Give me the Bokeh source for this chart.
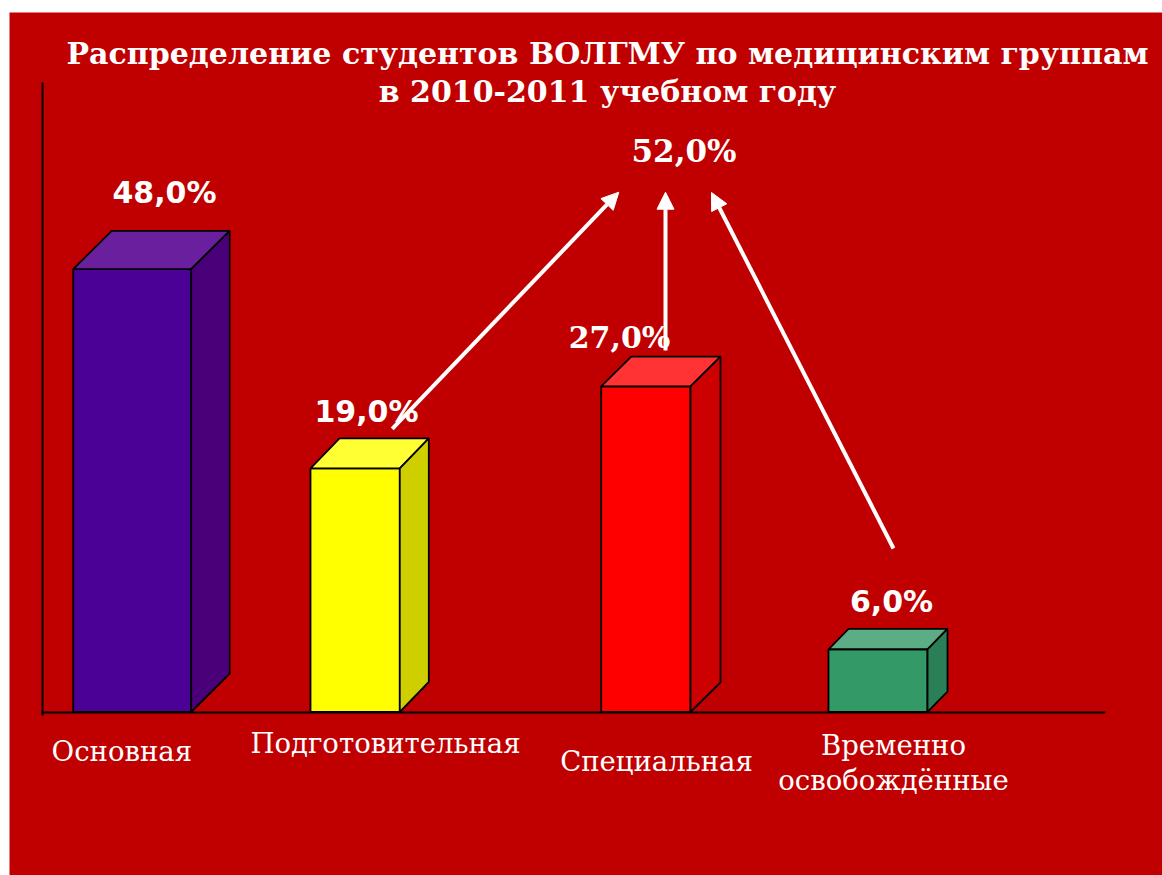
from bokeh.plotting import figure
from bokeh.models import Range1d, LinearAxis, FixedTicker, Arrow, NormalHead, ColumnDataSource
from bokeh.core.properties import value
from bokeh.embed import file_html
from bokeh.resources import INLINE

# ---------------- data ----------------
title_lines = ["Распределение студентов ВОЛГМУ по медицинским группам",
               "в 2010-2011 учебном году"]
categories = ["Основная", "Подготовительная", "Специальная", "Временно\nосвобождённые"]
values = [48.0, 19.0, 27.0, 6.0]            # percentages printed on the slide
bar_heights = [48.0, 26.4, 35.3, 6.8]       # drawn bar heights (same % scale)
combined = sum(values[1:])                  # 52,0 % = подготовительная + специальная + освобождённые


def pct(v):
    return f"{v:.1f}".replace(".", ",") + "%"


# ---------------- layout / style ----------------
K = 9.225      # screen px per percent unit
Y0 = 711.5     # screen y of the baseline


def sy(py):
    return (Y0 - py) / K


bar_left = [72.7, 310.0, 600.7, 828.0]
bar_right = [190.7, 399.3, 690.0, 927.0]
depth_x = [38.5, 29.0, 30.0, 20.0]
depth_y = [38.4, 30.0, 29.7, 20.3]
front_colors = ["#4B0096", "#FFFF00", "#FF0000", "#339966"]
top_colors = ["#6A1F9E", "#FFFF33", "#FF3333", "#5CAD85"]
side_colors = ["#4A0078", "#CFCF00", "#CC0000", "#2B7F56"]

val_x = [164.0, 366.0, 619.0, 891.0]
val_base = [192.0, 410.5, 337.0, 600.7]
val_fonts = ["DejaVu Sans", "DejaVu Sans", "DejaVu Serif", "DejaVu Sans"]
total_pos = (683.5, 150.7)

cat_x = [121.3, 385.0, 656.0, 893.0]
cat_base = [750.7, 742.5, 760.5, 744.0]
cat_line_gap = 35.0

arrow_tail = [(391.7, 428.3), (665.0, 350.0), (893.0, 548.0)]
arrow_tip = [(618.3, 191.7), (665.0, 191.7), (711.0, 192.0)]

title_x = 607.0
title_base = [53.0, 91.0]

BG = "#C00000"

p = figure(width=1162, height=875,
           x_range=Range1d(9, 1162), y_range=Range1d(sy(875), sy(12)),
           min_border_left=9, min_border_top=12, min_border_right=0, min_border_bottom=0,
           border_fill_color="white", background_fill_color=BG,
           outline_line_color=None, x_axis_type=None, y_axis_type=None,
           toolbar_location=None, output_backend="svg")

# axes (fixed inside the frame)
yaxis = LinearAxis(fixed_location=41.5, bounds=(sy(715), sy(82)),
                   ticker=FixedTicker(ticks=[]), axis_line_color="black", axis_line_width=2,
                   major_tick_line_color=None, minor_tick_line_color=None,
                   major_label_text_font_size="0px")
p.add_layout(yaxis, "left")
xaxis = LinearAxis(fixed_location=0, bounds=(41, 1105),
                   ticker=FixedTicker(ticks=[]), axis_line_color="black", axis_line_width=2,
                   major_tick_line_color=None, minor_tick_line_color=None,
                   major_label_text_font_size="0px")
p.add_layout(xaxis, "below")

# 3D bars
dy_units = [d / K for d in depth_y]
front = ColumnDataSource(dict(left=bar_left, right=bar_right, bottom=[0] * 4, top=bar_heights,
                              color=front_colors))
p.quad(left="left", right="right", bottom="bottom", top="top", source=front,
       fill_color="color", line_color="black", line_width=1.8)

top_xs, top_ys, side_xs, side_ys = [], [], [], []
for x0, x1, h, dx, dy in zip(bar_left, bar_right, bar_heights, depth_x, dy_units):
    top_xs.append([x0, x1, x1 + dx, x0 + dx])
    top_ys.append([h, h, h + dy, h + dy])
    side_xs.append([x1, x1 + dx, x1 + dx, x1])
    side_ys.append([0, dy, h + dy, h])
p.patches(xs=top_xs, ys=top_ys, fill_color=top_colors, line_color="black", line_width=1.8)
p.patches(xs=side_xs, ys=side_ys, fill_color=side_colors, line_color="black", line_width=1.8)

# value labels
vsrc = ColumnDataSource(dict(x=val_x, y=[sy(v) for v in val_base],
                             text=[pct(v) for v in values], font=val_fonts))
p.text(x="x", y="y", text="text", source=vsrc, text_font="font", text_font_style="bold",
       text_font_size="30px", text_color="white", text_align="center", text_baseline="alphabetic")
p.text(x=[total_pos[0]], y=[sy(total_pos[1])], text=[pct(combined)],
       text_font=value("DejaVu Serif"), text_font_style="bold", text_font_size="31px",
       text_color="white", text_align="center", text_baseline="alphabetic")

# arrows toward the combined share
for (tx, ty), (hx, hy) in zip(arrow_tail, arrow_tip):
    p.add_layout(Arrow(x_start=tx, y_start=sy(ty), x_end=hx, y_end=sy(hy),
                       line_color="white", line_width=4,
                       end=NormalHead(size=17, fill_color="white", line_color="white", line_width=1)))

# category labels (multi-line names split into separate rows)
cx, cy, ct = [], [], []
for name, x, b in zip(categories, cat_x, cat_base):
    for i, line in enumerate(name.split("\n")):
        cx.append(x)
        cy.append(sy(b + i * cat_line_gap))
        ct.append(line)
csrc = ColumnDataSource(dict(x=cx, y=cy, text=ct))
p.text(x="x", y="y", text="text", source=csrc, text_font=value("DejaVu Serif"),
       text_font_size="27.5px", text_color="white", text_align="center",
       text_baseline="alphabetic")

# title
p.text(x=[title_x] * 2, y=[sy(v) for v in title_base], text=title_lines,
       text_font=value("DejaVu Serif"), text_font_style="bold", text_font_size="30px",
       text_color="white", text_align="center", text_baseline="alphabetic")

open("out.html", "w").write(file_html(p, INLINE))
